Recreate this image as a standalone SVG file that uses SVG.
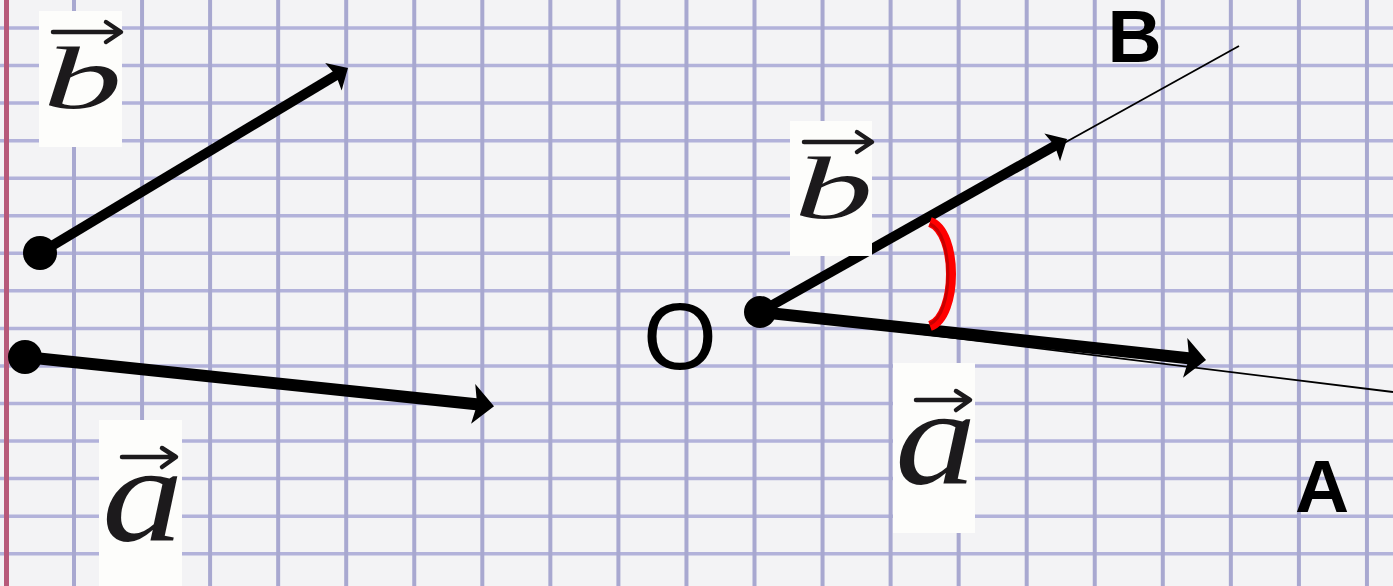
<svg xmlns="http://www.w3.org/2000/svg" xmlns:xlink="http://www.w3.org/1999/xlink" width="1393" height="586" viewBox="0 0 1393 586">
<style>
.vg{stroke:#a8a8d0;stroke-width:4;fill:none}
.hg{stroke:#b2b2da;stroke-width:3.5;fill:none}
.thickB{stroke:#000;stroke-width:10;fill:none;marker-end:url(#headB)}
.thickA{stroke:#000;stroke-width:12;fill:none;marker-end:url(#headA)}
.thin{stroke:#000;stroke-width:1.8;fill:none}
.dot{fill:#000}
.lbox{fill:#fdfdfb}
.vlet{font-family:"Liberation Serif","Times New Roman",serif;font-style:italic;fill:#1c1a1c}
.varr{stroke:#1c1a1c;stroke-width:4.5;fill:none;stroke-linecap:round;stroke-linejoin:round}
.pt{font-family:"Liberation Sans",Arial,sans-serif;fill:#000}
</style>
<defs>
<marker id="headB" markerUnits="userSpaceOnUse" markerWidth="17" markerHeight="32" refX="7" refY="16" orient="auto" overflow="visible">
<path d="M0,0 L17,16 L0,32 L3,16 Z" fill="#000"/>
</marker>
<marker id="headA" markerUnits="userSpaceOnUse" markerWidth="21" markerHeight="40" refX="8" refY="20" orient="auto" overflow="visible">
<path d="M0,0 L21,20 L0,40 L4,20 Z" fill="#000"/>
</marker>
<g id="arrB"><path class="varr" d="M14,21 H81 M67,11 L82,21 L67,31"/></g>
<g id="arrA"><path class="varr" d="M23,37 H76 M63,28 L77,37 L63,47"/></g>
</defs>
<rect width="1393" height="586" fill="#f3f3f5"/>
<g id="grid">
<line class="hg" x1="0" y1="28" x2="1393" y2="28"/>
<line class="hg" x1="0" y1="65.55" x2="1393" y2="65.55"/>
<line class="hg" x1="0" y1="103.1" x2="1393" y2="103.1"/>
<line class="hg" x1="0" y1="140.65" x2="1393" y2="140.65"/>
<line class="hg" x1="0" y1="178.2" x2="1393" y2="178.2"/>
<line class="hg" x1="0" y1="215.75" x2="1393" y2="215.75"/>
<line class="hg" x1="0" y1="253.3" x2="1393" y2="253.3"/>
<line class="hg" x1="0" y1="290.85" x2="1393" y2="290.85"/>
<line class="hg" x1="0" y1="328.4" x2="1393" y2="328.4"/>
<line class="hg" x1="0" y1="365.95" x2="1393" y2="365.95"/>
<line class="hg" x1="0" y1="403.5" x2="1393" y2="403.5"/>
<line class="hg" x1="0" y1="441.05" x2="1393" y2="441.05"/>
<line class="hg" x1="0" y1="478.6" x2="1393" y2="478.6"/>
<line class="hg" x1="0" y1="516.15" x2="1393" y2="516.15"/>
<line class="hg" x1="0" y1="553.7" x2="1393" y2="553.7"/>
<line class="vg" x1="74" y1="0" x2="74" y2="586"/>
<line class="vg" x1="142.05" y1="0" x2="142.05" y2="586"/>
<line class="vg" x1="210.1" y1="0" x2="210.1" y2="586"/>
<line class="vg" x1="278.15" y1="0" x2="278.15" y2="586"/>
<line class="vg" x1="346.2" y1="0" x2="346.2" y2="586"/>
<line class="vg" x1="414.25" y1="0" x2="414.25" y2="586"/>
<line class="vg" x1="482.3" y1="0" x2="482.3" y2="586"/>
<line class="vg" x1="550.35" y1="0" x2="550.35" y2="586"/>
<line class="vg" x1="618.4" y1="0" x2="618.4" y2="586"/>
<line class="vg" x1="686.45" y1="0" x2="686.45" y2="586"/>
<line class="vg" x1="754.5" y1="0" x2="754.5" y2="586"/>
<line class="vg" x1="822.55" y1="0" x2="822.55" y2="586"/>
<line class="vg" x1="890.6" y1="0" x2="890.6" y2="586"/>
<line class="vg" x1="958.65" y1="0" x2="958.65" y2="586"/>
<line class="vg" x1="1026.7" y1="0" x2="1026.7" y2="586"/>
<line class="vg" x1="1094.75" y1="0" x2="1094.75" y2="586"/>
<line class="vg" x1="1162.8" y1="0" x2="1162.8" y2="586"/>
<line class="vg" x1="1230.85" y1="0" x2="1230.85" y2="586"/>
<line class="vg" x1="1298.9" y1="0" x2="1298.9" y2="586"/>
<line class="vg" x1="1366.95" y1="0" x2="1366.95" y2="586"/>
<line x1="6.5" y1="0" x2="6.5" y2="586" stroke="#b75a7a" stroke-width="5"/>
</g>
<g id="connectors">
<line class="thin" x1="760" y1="312" x2="1239" y2="46"/>
<line class="thin" x1="760" y1="314" x2="1393" y2="392"/>
<line class="thickB" x1="40" y1="253" x2="339.4" y2="73.2"/>
<line class="thickA" x1="25" y1="357" x2="481.1" y2="404.8"/>
<line class="thickB" x1="760" y1="312" x2="1058.3" y2="143.9"/>
<line class="thickA" x1="760" y1="312" x2="1193.1" y2="358.7"/>
</g>
<g id="dot-b-left"><circle class="dot" cx="40" cy="253" r="17"/></g>
<g id="dot-a-left"><circle class="dot" cx="25" cy="357" r="17"/></g>
<g id="point-O"><circle class="dot" cx="760" cy="312" r="16"/><text class="pt" x="680" y="369" font-size="95" text-anchor="middle">O</text></g>
<g id="label-b-left" transform="translate(39,11)">
<rect class="lbox" width="83" height="136"/>
<use xlink:href="#arrB"/>
<text class="vlet" transform="translate(4,97) scale(1.8,1)" font-size="88">b</text>
</g>
<g id="label-b-right" transform="translate(790,121)">
<rect class="lbox" width="82" height="135"/>
<use xlink:href="#arrB"/>
<text class="vlet" transform="translate(4,97) scale(1.8,1)" font-size="88">b</text>
</g>
<g id="label-a-left" transform="translate(99,420)">
<rect class="lbox" width="83" height="170"/>
<use xlink:href="#arrA"/>
<text class="vlet" transform="translate(3,121) scale(1.18,1)" font-size="138">a</text>
</g>
<g id="label-a-right" transform="translate(893,363)">
<rect class="lbox" width="82" height="170"/>
<use xlink:href="#arrA"/>
<text class="vlet" transform="translate(2,121) scale(1.18,1)" font-size="138">a</text>
</g>
<g id="point-B"><text class="pt" x="1107.5" y="62" font-size="75" font-weight="bold">B</text></g>
<g id="point-A"><text class="pt" x="1295" y="512" font-size="75" font-weight="bold">A</text></g>
<g id="angle-arc">
<path d="M930,222 C958,232 958,316 930,326" stroke="#ff0000" stroke-width="10" fill="none"/>
<path d="M930,224 C954,234 954,314 930,324" stroke="#c80000" stroke-width="3" fill="none"/>
</g>
</svg>
